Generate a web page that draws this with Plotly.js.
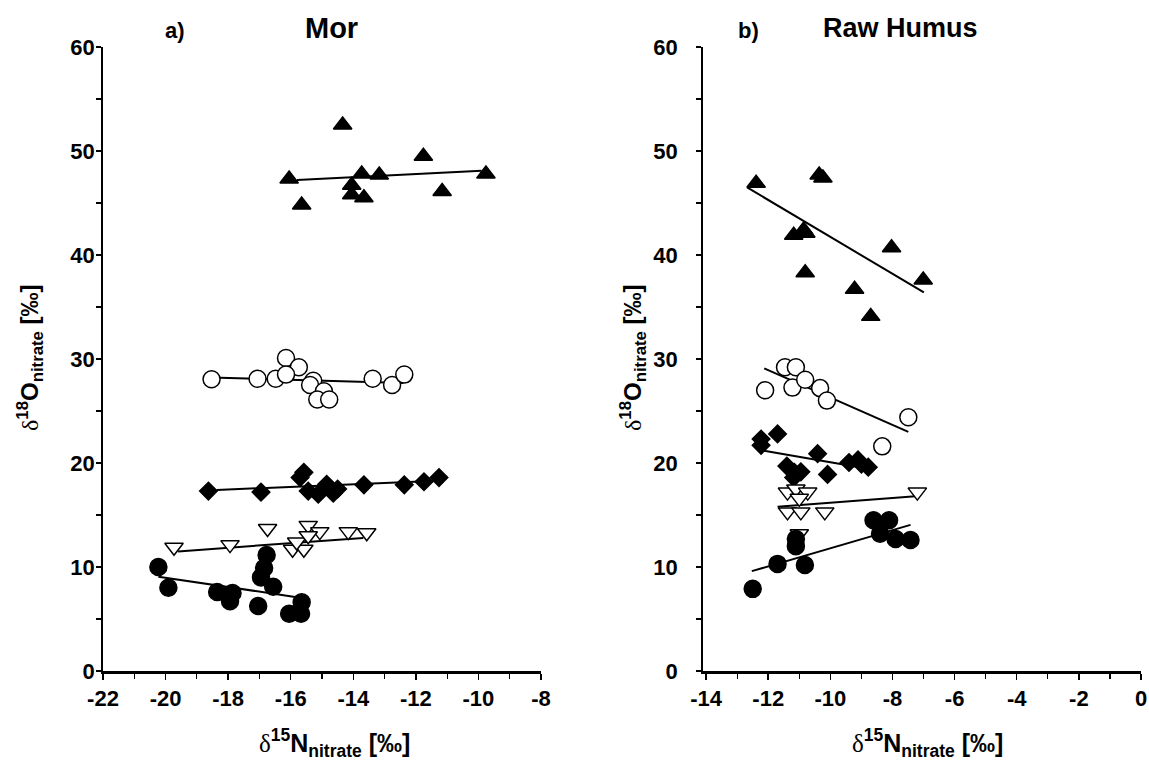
<!DOCTYPE html>
<html><head><meta charset="utf-8">
<script src="https://cdn.plot.ly/plotly-3.0.1.min.js"></script>
<style>html,body{margin:0;padding:0;background:#fff}#chart{width:1149px;height:760px}</style>
</head><body><div id="chart"></div>
<script>
// ---- Panel a) Mor ----
const morTriUpX = [-14.34, -16.05, -15.65, -13.73, -13.17, -14.05, -14.05, -13.66, -11.76, -11.16, -9.76];
const morTriUpY = [52.5, 47.3, 44.8, 47.8, 47.7, 46.7, 45.8, 45.5, 49.5, 46.1, 47.8];
const morOpenCircX = [-18.53, -17.06, -16.48, -16.15, -15.74, -16.15, -15.28, -15.38, -14.94, -15.15, -14.77, -13.38, -12.76, -12.37];
const morOpenCircY = [28.05, 28.1, 28.1, 30.1, 29.2, 28.5, 27.9, 27.5, 26.9, 26.1, 26.1, 28.1, 27.5, 28.5];
const morDiamondX = [-18.63, -16.95, -15.58, -15.70, -15.44, -15.12, -14.85, -14.64, -14.50, -13.66, -12.37, -11.74, -11.26];
const morDiamondY = [17.3, 17.2, 19.1, 18.6, 17.3, 17.0, 17.95, 17.1, 17.5, 17.9, 17.9, 18.2, 18.6];
const morTriDownX = [-19.73, -17.94, -16.74, -15.44, -15.07, -15.94, -15.58, -15.81, -15.44, -14.16, -13.57];
const morTriDownY = [11.9, 12.15, 13.7, 14.0, 13.4, 11.7, 11.7, 12.4, 13.0, 13.4, 13.3];
const morFilledCircX = [-20.23, -19.91, -18.35, -17.86, -17.94, -17.04, -16.77, -16.85, -16.95, -16.56, -15.65, -16.05, -15.67];
const morFilledCircY = [10.0, 8.0, 7.6, 7.5, 6.7, 6.25, 11.15, 9.9, 9.0, 8.1, 6.6, 5.5, 5.5];
// regression line endpoints
const morFitTriUpX = [-15.8, -9.9], morFitTriUpY = [47.2, 48.1];
const morFitOpenCircX = [-18.26, -12.4], morFitOpenCircY = [28.2, 27.7];
const morFitDiamondX = [-18.37, -11.3], morFitDiamondY = [17.4, 18.3];
const morFitTriDownX = [-19.6, -13.68], morFitTriDownY = [11.5, 12.8];
const morFitFilledCircX = [-20.23, -15.81], morFitFilledCircY = [9.07, 7.1];

// ---- Panel b) Raw Humus ----
const rawTriUpX = [-12.39, -10.36, -10.24, -11.18, -10.86, -10.79, -10.81, -9.22, -8.70, -8.03, -7.01];
const rawTriUpY = [46.9, 47.7, 47.4, 41.9, 42.4, 42.1, 38.3, 36.7, 34.1, 40.7, 37.6];
const rawOpenCircX = [-12.1, -11.46, -11.11, -11.22, -10.81, -10.33, -10.11, -8.33, -7.49];
const rawOpenCircY = [27.0, 29.2, 29.2, 27.25, 28.0, 27.2, 26.0, 21.6, 24.4];
const rawDiamondX = [-12.23, -12.23, -11.70, -11.40, -11.16, -10.95, -11.18, -10.41, -10.09, -9.40, -9.11, -9.0, -8.78];
const rawDiamondY = [22.3, 21.7, 22.8, 19.7, 19.1, 19.15, 18.6, 20.9, 18.9, 20.05, 20.3, 19.9, 19.6];
const rawTriDownX = [-11.38, -11.11, -10.73, -11.0, -11.38, -10.95, -10.18, -11.0, -7.2];
const rawTriDownY = [17.2, 17.5, 17.2, 16.6, 15.3, 15.3, 15.3, 13.2, 17.2];
const rawFilledCircX = [-12.5, -11.70, -10.82, -11.11, -11.11, -8.61, -8.11, -8.40, -7.90, -7.42];
const rawFilledCircY = [7.9, 10.3, 10.2, 12.7, 12.0, 14.5, 14.5, 13.2, 12.7, 12.6];
const rawFitTriUpX = [-12.68, -6.99], rawFitTriUpY = [46.5, 36.4];
const rawFitOpenCircX = [-12.13, -7.49], rawFitOpenCircY = [29.1, 23.0];
const rawFitDiamondX = [-12.18, -8.70], rawFitDiamondY = [21.2, 19.4];
const rawFitTriDownX = [-11.7, -7.26], rawFitTriDownY = [15.8, 16.8];
const rawFitFilledCircX = [-12.53, -7.42], rawFitFilledCircY = [9.6, 14.05];

// ---- tick labels ----
const morXTickVals = [-22, -20, -18, -16, -14, -12, -10, -8];
const morXTickText = ['-22', '-20', '-18', '-16', '-14', '-12', '-10', '-8'];
const rawXTickVals = [-14, -12, -10, -8, -6, -4, -2, 0];
const rawXTickText = ['-14', '-12', '-10', '-8', '-6', '-4', '-2', '0'];
const yTickVals = [0, 10, 20, 30, 40, 50, 60];
const yTickText = ['0', '10', '20', '30', '40', '50', '60'];

const W = 1149, H = 760;
const FONT = "'Liberation Sans', Arial, sans-serif";

function line(x, y, xa, ya) {
  return {x: x, y: y, xaxis: xa, yaxis: ya, mode: 'lines', type: 'scatter',
    line: {color: 'black', width: 2}, hoverinfo: 'skip', showlegend: false};
}
function pts(x, y, xa, ya, symbol, size, fill) {
  return {x: x, y: y, xaxis: xa, yaxis: ya, mode: 'markers', type: 'scatter', showlegend: false,
    marker: {symbol: symbol, size: size, color: fill, line: {color: 'black', width: 1.5}}};
}

const traces = [
  line(morFitTriUpX, morFitTriUpY, 'x', 'y'),
  line(morFitOpenCircX, morFitOpenCircY, 'x', 'y'),
  line(morFitDiamondX, morFitDiamondY, 'x', 'y'),
  line(morFitTriDownX, morFitTriDownY, 'x', 'y'),
  line(morFitFilledCircX, morFitFilledCircY, 'x', 'y'),
  pts(morTriUpX, morTriUpY, 'x', 'y', 'triangle-up', 16, 'black'),
  pts(morOpenCircX, morOpenCircY, 'x', 'y', 'circle', 17, 'white'),
  pts(morDiamondX, morDiamondY, 'x', 'y', 'diamond', 13.5, 'black'),
  pts(morTriDownX, morTriDownY, 'x', 'y', 'triangle-down', 16, 'white'),
  pts(morFilledCircX, morFilledCircY, 'x', 'y', 'circle', 17, 'black'),

  line(rawFitTriUpX, rawFitTriUpY, 'x2', 'y2'),
  line(rawFitOpenCircX, rawFitOpenCircY, 'x2', 'y2'),
  line(rawFitDiamondX, rawFitDiamondY, 'x2', 'y2'),
  line(rawFitTriDownX, rawFitTriDownY, 'x2', 'y2'),
  line(rawFitFilledCircX, rawFitFilledCircY, 'x2', 'y2'),
  pts(rawTriUpX, rawTriUpY, 'x2', 'y2', 'triangle-up', 16, 'black'),
  pts(rawOpenCircX, rawOpenCircY, 'x2', 'y2', 'circle', 17, 'white'),
  pts(rawDiamondX, rawDiamondY, 'x2', 'y2', 'diamond', 13.5, 'black'),
  pts(rawTriDownX, rawTriDownY, 'x2', 'y2', 'triangle-down', 16, 'white'),
  pts(rawFilledCircX, rawFilledCircY, 'x2', 'y2', 'circle', 17, 'black')
];

const tickFont = {family: FONT, size: 22, color: 'black', weight: 'bold'};
const yDom = [1 - 671 / H, 1 - 47 / H];
function xAxis(domain, range, vals, text, anchor) {
  return {domain: domain, range: range, anchor: anchor, tickmode: 'array', tickvals: vals, ticktext: text,
    ticks: 'outside', ticklen: 6, tickwidth: 1.5, tickcolor: 'black', ticklabelstandoff: 0,
    minor: {tickmode: 'linear', tick0: 0, dtick: 1, ticks: 'outside', ticklen: 5, tickwidth: 1.2, tickcolor: 'black', showgrid: false},
    showline: true, linewidth: 2.5, linecolor: 'black', showgrid: false, zeroline: false,
    tickfont: tickFont, fixedrange: true};
}
function yAxis(anchor, standoff) {
  return {domain: yDom, range: [0, 60], anchor: anchor, tickmode: 'array', tickvals: yTickVals, ticktext: yTickText,
    ticks: 'outside', ticklen: 5, tickwidth: 1.5, tickcolor: 'black', ticklabelstandoff: standoff,
    minor: {tickmode: 'linear', tick0: 0, dtick: 5, ticks: 'outside', ticklen: 5, tickwidth: 1.2, tickcolor: 'black', showgrid: false},
    showline: true, linewidth: 1.8, linecolor: 'black', showgrid: false, zeroline: false,
    tickfont: tickFont, fixedrange: true};
}

const delta = "<span style=\"font-family:'Liberation Serif',serif;font-weight:normal\">δ</span>";
const yTitle = delta + "<sup>18</sup>O<sub>nitrate</sub> [‰]";
const xTitle = delta + "<sup>15</sup>N<sub>nitrate</sub> [‰]";
function ann(text, xpx, ypx, size, angle) {
  return {text: text, xref: 'paper', yref: 'paper', x: xpx / W, y: 1 - ypx / H,
    xanchor: 'center', yanchor: 'middle', showarrow: false, textangle: angle || 0,
    font: {family: FONT, size: size, color: 'black', weight: 'bold'}};
}

const layout = {
  width: W, height: H, margin: {l: 0, r: 0, t: 0, b: 0},
  paper_bgcolor: 'white', plot_bgcolor: 'white', showlegend: false,
  xaxis: xAxis([103 / W, 541 / W], [-22, -8], morXTickVals, morXTickText, 'y'),
  yaxis: yAxis('x', -3),
  xaxis2: xAxis([703 / W, 1141 / W], [-14.1, 0], rawXTickVals, rawXTickText, 'y2'),
  yaxis2: yAxis('x2', 14),
  annotations: [
    ann('a)', 175, 30, 22),
    ann('Mor', 331, 28, 29),
    ann('b)', 748, 30, 22),
    ann('Raw Humus', 900, 28, 27),
    ann(yTitle, 30, 358, 24, -90),
    ann(yTitle, 633, 358, 24, -90),
    ann(xTitle, 334, 743, 25),
    ann(xTitle, 927, 743, 25)
  ]
};

Plotly.newPlot('chart', traces, layout, {displayModeBar: false, staticPlot: true});
</script>
</body></html>
